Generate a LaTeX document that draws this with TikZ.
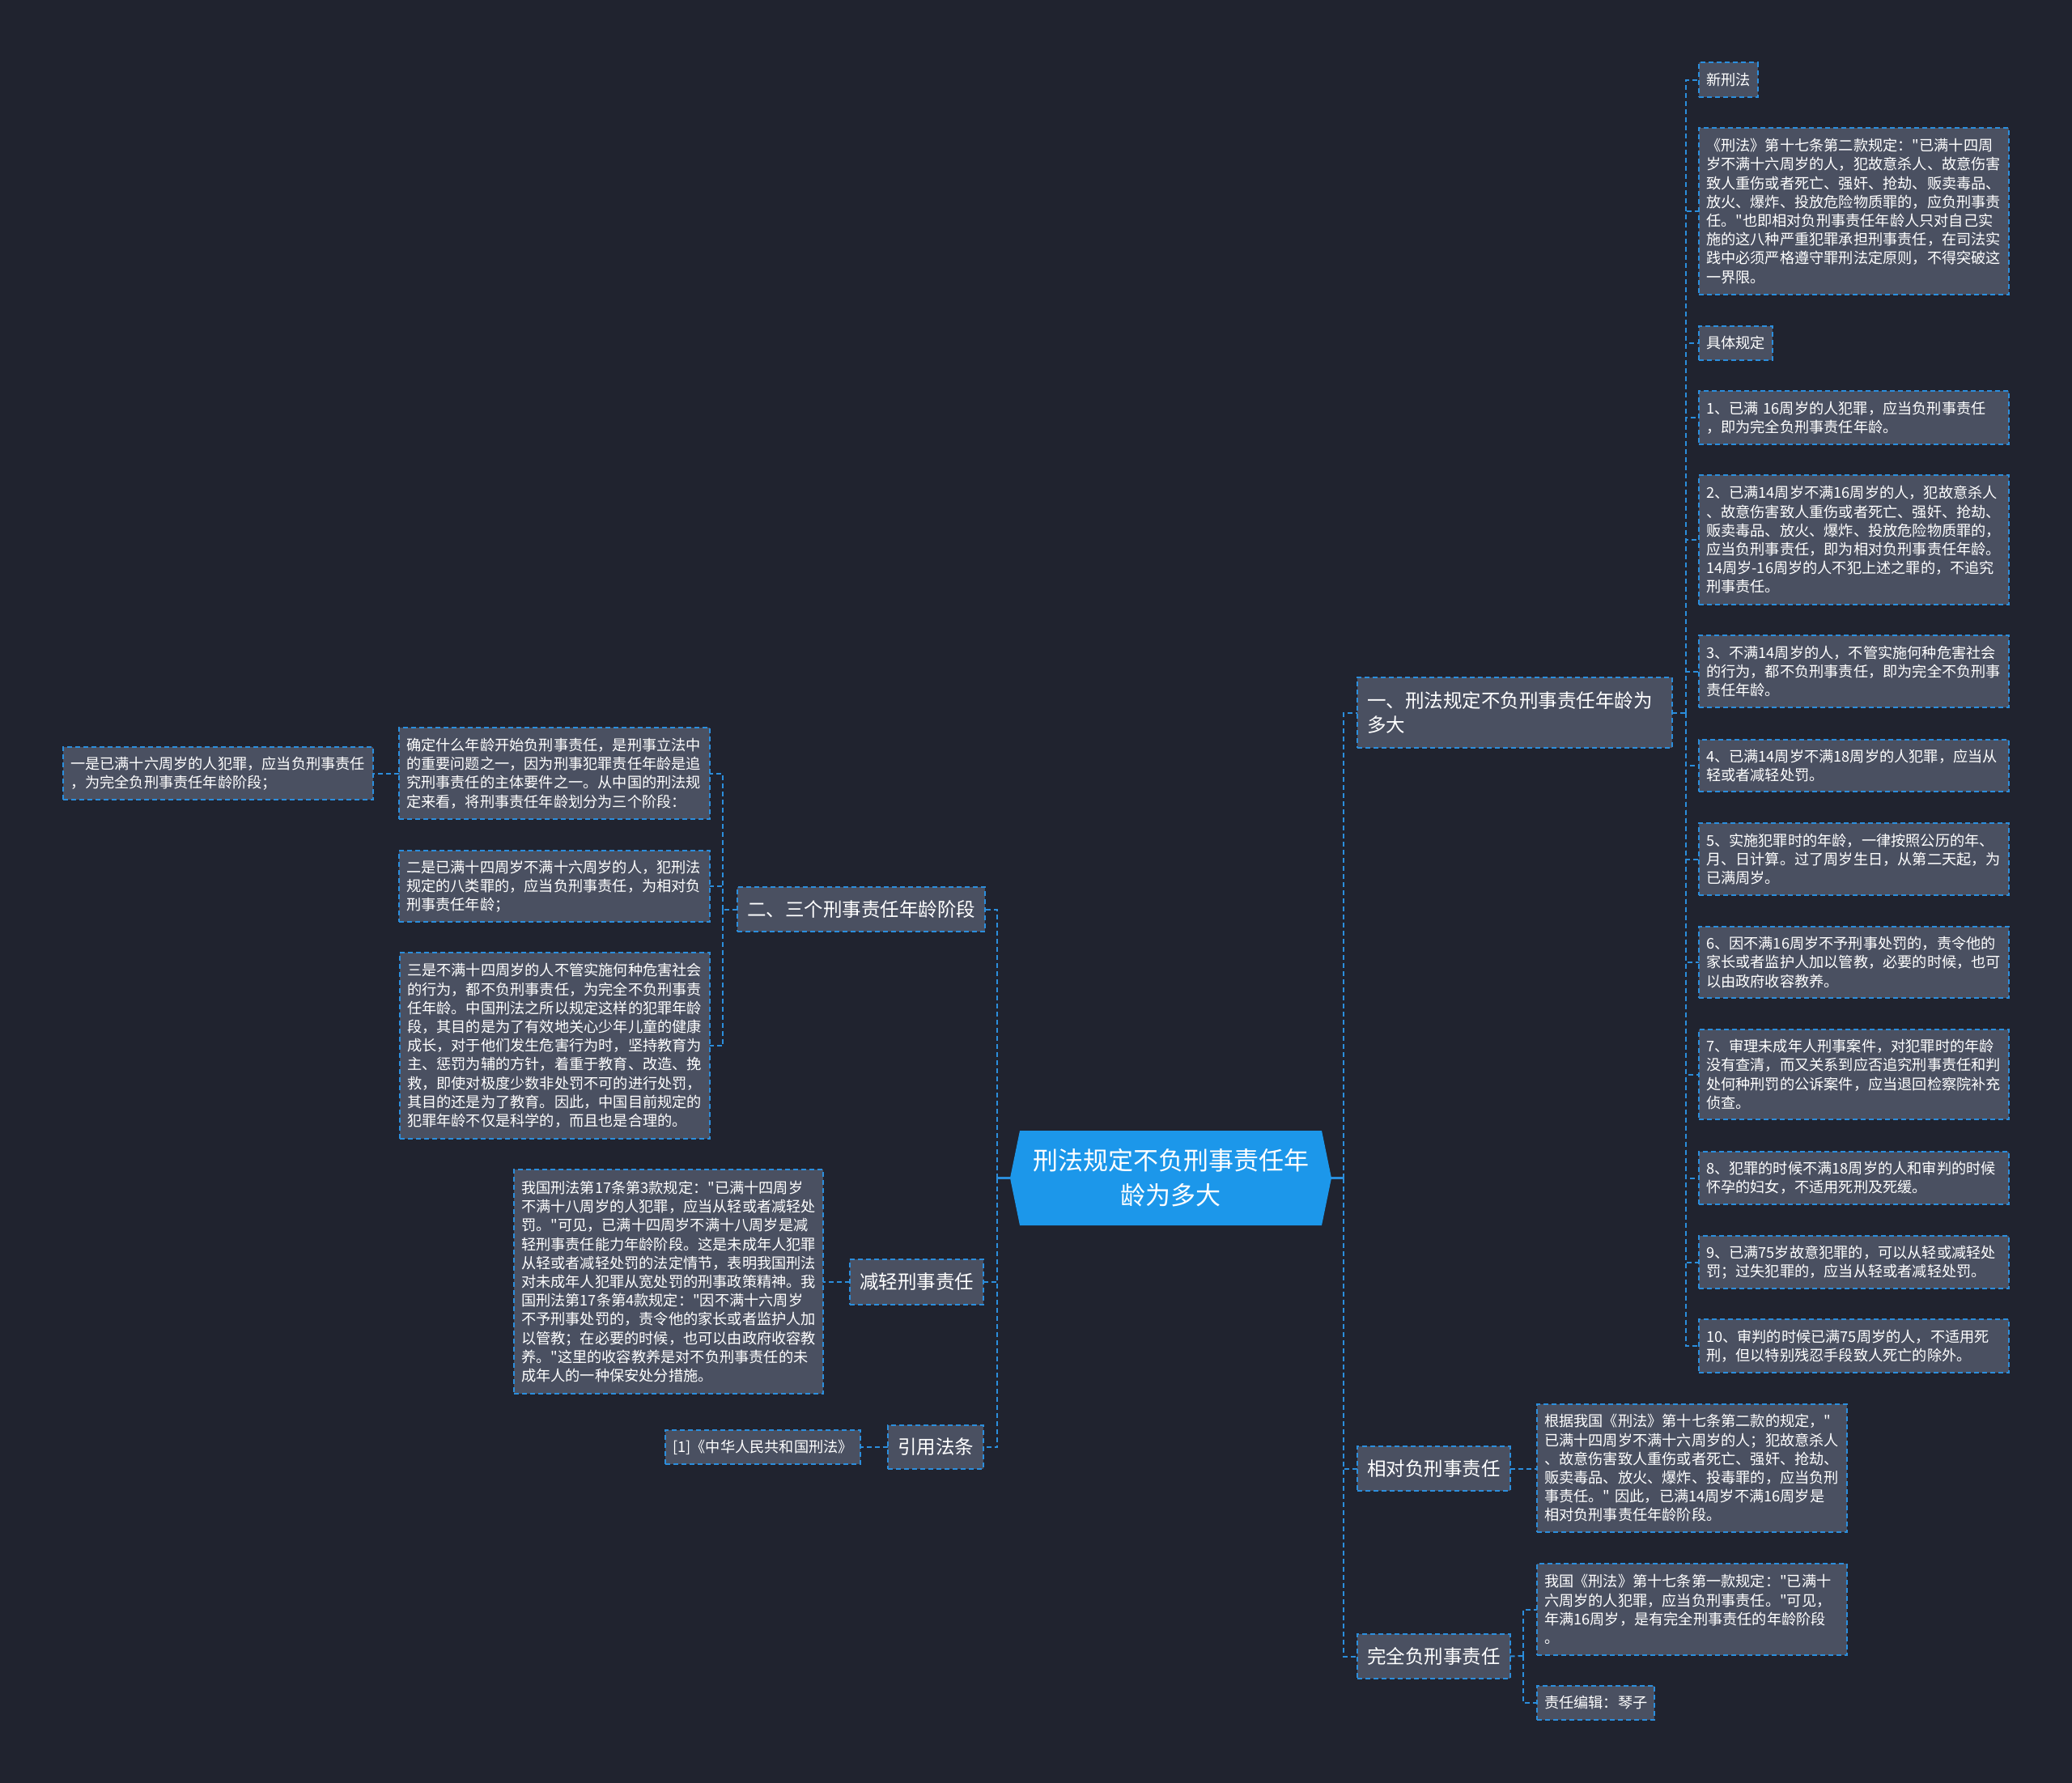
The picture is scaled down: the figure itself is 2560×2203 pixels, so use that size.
\documentclass[tikz,border=0pt]{standalone}
\usepackage{fontspec}
\setmainfont{Noto Sans CJK SC}[Ligatures=TeXOff]
\definecolor{bgc}{HTML}{20232F}
\definecolor{boxfill}{HTML}{4A5061}
\definecolor{lineblue}{HTML}{2B8EDD}
\definecolor{rootfill}{HTML}{1C97EA}
\begin{document}
\begin{tikzpicture}[x=1pt,y=-1pt,
  leaf/.style={draw=lineblue, line width=2pt, dash pattern=on 6pt off 4pt, fill=boxfill,
    text=white, anchor=north west, inner xsep=9pt, inner ysep=0pt, outer sep=0pt,
    align=left, font=\fontsize{18.2}{23.2}\selectfont},
  branch/.style={draw=lineblue, line width=2pt, dash pattern=on 6pt off 4pt, fill=boxfill,
    text=white, anchor=north west, inner xsep=12pt, inner ysep=0pt, outer sep=0pt,
    align=left, font=\fontsize{23.5}{30}\selectfont},
  conn/.style={draw=lineblue, line width=2pt, dash pattern=on 6pt off 4pt},
  rootconn/.style={draw=lineblue, line width=2.5pt}
]
\fill[bgc] (0,0) rectangle (2560,2203);
\useasboundingbox (0,0) rectangle (2560,2203);

% root
\fill[rootfill] (1260,1397) -- (1633,1397) -- (1645,1455.5) -- (1633,1514) -- (1260,1514) -- (1248,1455.5) -- cycle;
\node[text=white, align=center, minimum width=397pt, minimum height=117pt, inner sep=0pt, outer sep=0pt,
  font=\fontsize{31}{43}\selectfont] (root) at (1446.5,1455.5) {刑法规定不负刑事责任年\\龄为多大};

% right branches
\node[branch, text width=365pt, minimum height=87pt] (b1) at (1677,837) {一、刑法规定不负刑事责任年龄为\\多大};
\node[branch, minimum height=55pt] (b3) at (1677,1787) {相对负刑事责任};
\node[branch, minimum height=55pt] (b4) at (1677,2019) {完全负刑事责任};

% right column leaves
\node[leaf, minimum height=43pt] (r1) at (2099,77) {新刑法};
\node[leaf, text width=365pt, minimum height=206pt] (r2) at (2099,158) {《刑法》第十七条第二款规定："已满十四周\\岁不满十六周岁的人，犯故意杀人、故意伤害\\致人重伤或者死亡、强奸、抢劫、贩卖毒品、\\放火、爆炸、投放危险物质罪的，应负刑事责\\任。"也即相对负刑事责任年龄人只对自己实\\施的这八种严重犯罪承担刑事责任，在司法实\\践中必须严格遵守罪刑法定原则，不得突破这\\一界限。};
\node[leaf, minimum height=42pt] (r3) at (2099,403) {具体规定};
\node[leaf, text width=365pt, minimum height=66pt] (r4) at (2099,483) {1、已满 16周岁的人犯罪，应当负刑事责任\\，即为完全负刑事责任年龄。};
\node[leaf, text width=365pt, minimum height=160pt] (r5) at (2099,587) {2、已满14周岁不满16周岁的人，犯故意杀人\\、故意伤害致人重伤或者死亡、强奸、抢劫、\\贩卖毒品、放火、爆炸、投放危险物质罪的，\\应当负刑事责任，即为相对负刑事责任年龄。\\14周岁-16周岁的人不犯上述之罪的，不追究\\刑事责任。};
\node[leaf, text width=365pt, minimum height=89pt] (r6) at (2099,785) {3、不满14周岁的人，不管实施何种危害社会\\的行为，都不负刑事责任，即为完全不负刑事\\责任年龄。};
\node[leaf, text width=365pt, minimum height=64pt] (r7) at (2099,914) {4、已满14周岁不满18周岁的人犯罪，应当从\\轻或者减轻处罚。};
\node[leaf, text width=365pt, minimum height=89pt] (r8) at (2099,1017) {5、实施犯罪时的年龄，一律按照公历的年、\\月、日计算。过了周岁生日，从第二天起，为\\已满周岁。};
\node[leaf, text width=365pt, minimum height=88pt] (r9) at (2099,1145) {6、因不满16周岁不予刑事处罚的，责令他的\\家长或者监护人加以管教，必要的时候，也可\\以由政府收容教养。};
\node[leaf, text width=365pt, minimum height=111pt] (r10) at (2099,1272) {7、审理未成年人刑事案件，对犯罪时的年龄\\没有查清，而又关系到应否追究刑事责任和判\\处何种刑罚的公诉案件，应当退回检察院补充\\侦查。};
\node[leaf, text width=365pt, minimum height=65pt] (r11) at (2099,1423) {8、犯罪的时候不满18周岁的人和审判的时候\\怀孕的妇女，不适用死刑及死缓。};
\node[leaf, text width=365pt, minimum height=65pt] (r12) at (2099,1527) {9、已满75岁故意犯罪的，可以从轻或减轻处\\罚；过失犯罪的，应当从轻或者减轻处罚。};
\node[leaf, text width=365pt, minimum height=66pt] (r13) at (2099,1630) {10、审判的时候已满75周岁的人，不适用死\\刑，但以特别残忍手段致人死亡的除外。};

% lower right leaves
\node[leaf, text width=365pt, minimum height=158pt] (c1) at (1899,1735) {根据我国《刑法》第十七条第二款的规定，"\\已满十四周岁不满十六周岁的人；犯故意杀人\\、故意伤害致人重伤或者死亡、强奸、抢劫、\\贩卖毒品、放火、爆炸、投毒罪的，应当负刑\\事责任。" 因此，已满14周岁不满16周岁是\\相对负刑事责任年龄阶段。};
\node[leaf, text width=365pt, minimum height=113pt] (c2) at (1899,1932) {我国《刑法》第十七条第一款规定："已满十\\六周岁的人犯罪，应当负刑事责任。"可见，\\年满16周岁，是有完全刑事责任的年龄阶段\\。};
\node[leaf, minimum height=42pt] (c3) at (1899,2083) {责任编辑：琴子};

% left branches
\node[branch, minimum height=55pt] (b2) at (911,1096) {二、三个刑事责任年龄阶段};
\node[branch, minimum height=56pt] (b5) at (1050,1556) {减轻刑事责任};
\node[branch, minimum height=54pt] (b6) at (1097,1761) {引用法条};

% left leaves
\node[leaf, text width=366pt, minimum height=113pt] (l1) at (493,899) {确定什么年龄开始负刑事责任，是刑事立法中\\的重要问题之一，因为刑事犯罪责任年龄是追\\究刑事责任的主体要件之一。从中国的刑法规\\定来看，将刑事责任年龄划分为三个阶段：};
\node[leaf, text width=365pt, minimum height=65pt] (l0) at (78,923) {一是已满十六周岁的人犯罪，应当负刑事责任\\，为完全负刑事责任年龄阶段；};
\node[leaf, text width=366pt, minimum height=88pt] (l2) at (493,1051) {二是已满十四周岁不满十六周岁的人，犯刑法\\规定的八类罪的，应当负刑事责任，为相对负\\刑事责任年龄；};
\node[leaf, text width=365pt, minimum height=230pt] (l3) at (494,1177) {三是不满十四周岁的人不管实施何种危害社会\\的行为，都不负刑事责任，为完全不负刑事责\\任年龄。中国刑法之所以规定这样的犯罪年龄\\段，其目的是为了有效地关心少年儿童的健康\\成长，对于他们发生危害行为时，坚持教育为\\主、惩罚为辅的方针，着重于教育、改造、挽\\救，即使对极度少数非处罚不可的进行处罚，\\其目的还是为了教育。因此，中国目前规定的\\犯罪年龄不仅是科学的，而且也是合理的。};
\node[leaf, text width=364pt, minimum height=277pt] (l5) at (635,1445) {我国刑法第17条第3款规定："已满十四周岁\\不满十八周岁的人犯罪，应当从轻或者减轻处\\罚。"可见，已满十四周岁不满十八周岁是减\\轻刑事责任能力年龄阶段。这是未成年人犯罪\\从轻或者减轻处罚的法定情节，表明我国刑法\\对未成年人犯罪从宽处罚的刑事政策精神。我\\国刑法第17条第4款规定："因不满十六周岁\\不予刑事处罚的，责令他的家长或者监护人加\\以管教；在必要的时候，也可以由政府收容教\\养。"这里的收容教养是对不负刑事责任的未\\成年人的一种保安处分措施。};
\node[leaf, align=center, minimum width=241pt, minimum height=42pt] (l6) at (822,1767) {[1]《中华人民共和国刑法》};

% spines
\coordinate (rsp) at (1660,1455.5);
\coordinate (lsp) at (1232,1455.5);
\coordinate (s1) at (2083,880.5);
\coordinate (s2) at (893,1123.5);
\coordinate (s4) at (1882,2046);

% root connectors
\draw[rootconn] (root.east) -- (rsp) ++(0,-6) -- ++(0,12);
\draw[rootconn] (root.west) -- (lsp) ++(0,-6) -- ++(0,12);
\draw[conn] (rsp) |- (b1.west);
\draw[conn] (rsp) |- (b3.west);
\draw[conn] (rsp) |- (b4.west);
\draw[conn] (lsp) |- (b2.east);
\draw[conn] (lsp) |- (b5.east);
\draw[conn] (lsp) |- (b6.east);

% branch one
\draw[conn] (b1.east) -- (s1);
\foreach \n in {r1,r2,r3,r4,r5,r6,r7,r8,r9,r10,r11,r12,r13}{
  \draw[conn] (s1) |- (\n.west);
}
% relative / complete
\draw[conn] (b3.east) -- (b3.east -| c1.west);
\draw[conn] (b4.east) -- (s4);
\draw[conn] (s4) |- (c2.west);
\draw[conn] (s4) |- (c3.west);

% branch two
\draw[conn] (b2.west) -- (s2);
\draw[conn] (s2) |- (l1.east);
\draw[conn] (s2) |- (l2.east);
\draw[conn] (s2) |- (l3.east);
\draw[conn] (l1.west) -- (l1.west -| l0.east);
\draw[conn] (b5.west) -- (b5.west -| l5.east);
\draw[conn] (b6.west) -- (b6.west -| l6.east);
\end{tikzpicture}
\end{document}
